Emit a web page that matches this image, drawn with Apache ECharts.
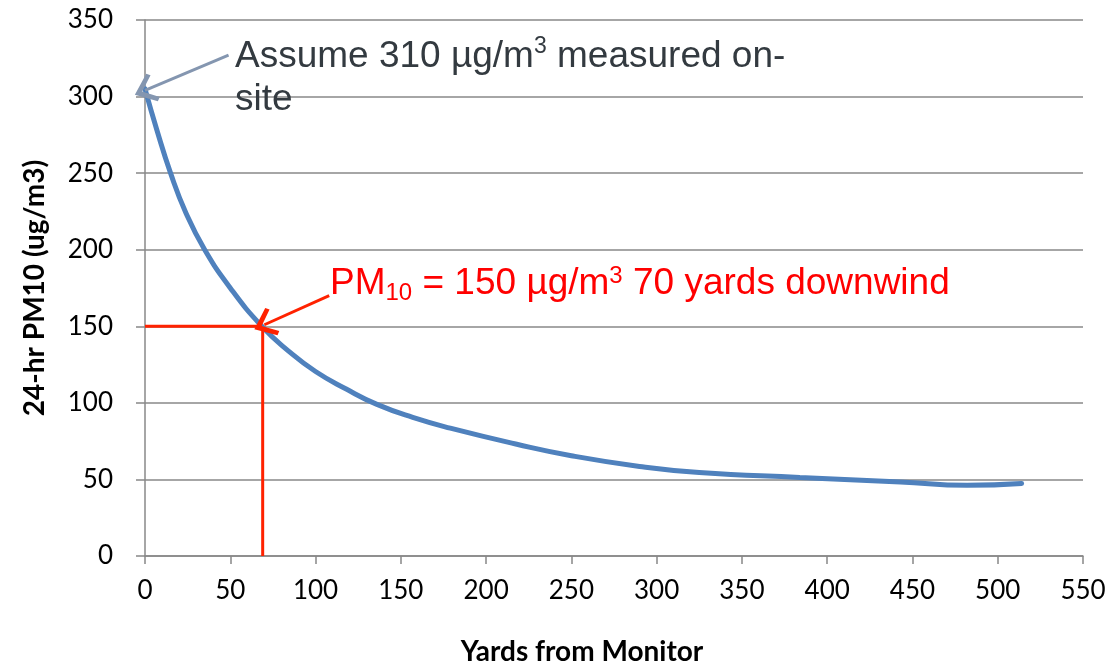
<!DOCTYPE html>
<html>
<head>
<meta charset="utf-8">
<script src="https://cdn.jsdelivr.net/npm/echarts@6/dist/echarts.min.js"></script>
<style>
html,body{margin:0;padding:0;background:#fff;}
#chart{width:1109px;height:664px;}
</style>
</head>
<body>
<div id="chart"></div>
<script>
// Data
const yardsFromMonitor = [0, 7, 15, 24, 35, 50, 68.5, 84, 100, 118, 136, 157, 179, 218, 250, 290, 325, 384, 443, 482, 514];
const pm10Values = [305, 278, 250, 224, 200, 175, 150, 134, 120.5, 109, 99, 90.5, 83.5, 73, 65.5, 58.5, 54.5, 51.3, 48.4, 46.2, 47.4];
const xTicks = {min: 0, max: 550, step: 50};
const yTicks = {min: 0, max: 350, step: 50};
const markerYards = 69;
const markerPM = 150;
const onsiteArrow = {from: [49, 327], to: [0, 304]};
const markerArrow = {from: [108, 170], to: [70, 151]};

const curve = yardsFromMonitor.map((x, i) => [x, pm10Values[i]]);
const chevron = 'path://M0,0 L12,14 L9.5,16.5 L0,6 L-9.5,16.5 L-12,14 Z';

const chart = echarts.init(document.getElementById('chart'), null, {renderer: 'canvas'});
const gridColor = '#888888';
chart.setOption({
  animation: false,
  backgroundColor: '#fff',
  grid: {left: 145, right: 26, top: 20, bottom: 108, containLabel: false, outerBoundsMode: 'none'},
  xAxis: {
    type: 'value', min: xTicks.min, max: xTicks.max, interval: xTicks.step,
    name: 'Yards from Monitor', nameLocation: 'middle', nameGap: 82,
    nameTextStyle: {fontFamily: 'Lato', fontWeight: 'bold', fontSize: 28, color: '#000', padding: [0, 64, 0, 0]},
    axisLine: {show: true, lineStyle: {color: gridColor, width: 1.5}},
    axisTick: {show: true, length: 8, lineStyle: {color: gridColor, width: 1.5}},
    axisLabel: {margin: 22, fontFamily: 'Lato', fontSize: 26, color: '#000'},
    splitLine: {show: false}
  },
  yAxis: {
    type: 'value', min: yTicks.min, max: yTicks.max, interval: yTicks.step,
    name: '24-hr PM10 (ug/m3)', nameLocation: 'middle', nameGap: 96, nameRotate: 90,
    nameTextStyle: {fontFamily: 'Lato', fontWeight: 'bold', fontSize: 28, color: '#000'},
    axisLine: {show: true, lineStyle: {color: gridColor, width: 1.5}},
    axisTick: {show: true, length: 9, lineStyle: {color: gridColor, width: 1.5}},
    axisLabel: {margin: 32, fontFamily: 'Lato', fontSize: 26, color: '#000'},
    splitLine: {show: true, lineStyle: {color: gridColor, width: 1.5}}
  },
  series: [
    {
      type: 'line', name: 'marker-h', data: [[0, markerPM], [markerYards, markerPM]],
      showSymbol: false, lineStyle: {color: '#ff2200', width: 3}, z: 3
    },
    {
      type: 'line', name: 'marker-v', data: [[markerYards, 0], [markerYards, markerPM]],
      showSymbol: false, lineStyle: {color: '#ff2200', width: 3}, z: 3
    },
    {
      type: 'line', name: 'PM10', data: curve, smooth: 0.5,
      showSymbol: false, lineStyle: {color: '#4f81bd', width: 5, cap: 'round'}, z: 4,
      markLine: {
        silent: true, animation: false,
        symbol: ['none', chevron], symbolSize: [30, 22],
        label: {show: false},
        data: [
          [{coord: onsiteArrow.from, lineStyle: {color: '#8496b0', width: 3, type: 'solid'}}, {coord: onsiteArrow.to}],
          [{coord: markerArrow.from, lineStyle: {color: '#ff2200', width: 3, type: 'solid'}}, {coord: markerArrow.to}]
        ]
      }
    }
  ],
  graphic: [
    {
      type: 'text', left: 235, top: 35, z: 10,
      style: {
        text: 'Assume 310 µg/m{sup|3} measured on-\nsite',
        fontFamily: 'Liberation Sans', fontSize: 37, lineHeight: 43, fill: '#333a40',
        rich: {sup: {fontSize: 23, verticalAlign: 'top', lineHeight: 43, fill: '#333a40', fontFamily: 'Liberation Sans', padding: [0, 0, 16, 0]}}
      }
    },
    {
      type: 'text', left: 330, top: 262, z: 10,
      style: {
        text: 'PM{sub|10} = 150 µg/m{sup|3} 70 yards downwind',
        fontFamily: 'Liberation Sans', fontSize: 37, lineHeight: 44, fill: '#ff0000',
        rich: {
          sub: {fontSize: 24, fill: '#ff0000', fontFamily: 'Liberation Sans', lineHeight: 44, padding: [18, 0, 0, 0]},
          sup: {fontSize: 24, fill: '#ff0000', fontFamily: 'Liberation Sans', lineHeight: 44, padding: [0, 0, 16, 0]}
        }
      }
    }
  ]
});
</script>
</body>
</html>
